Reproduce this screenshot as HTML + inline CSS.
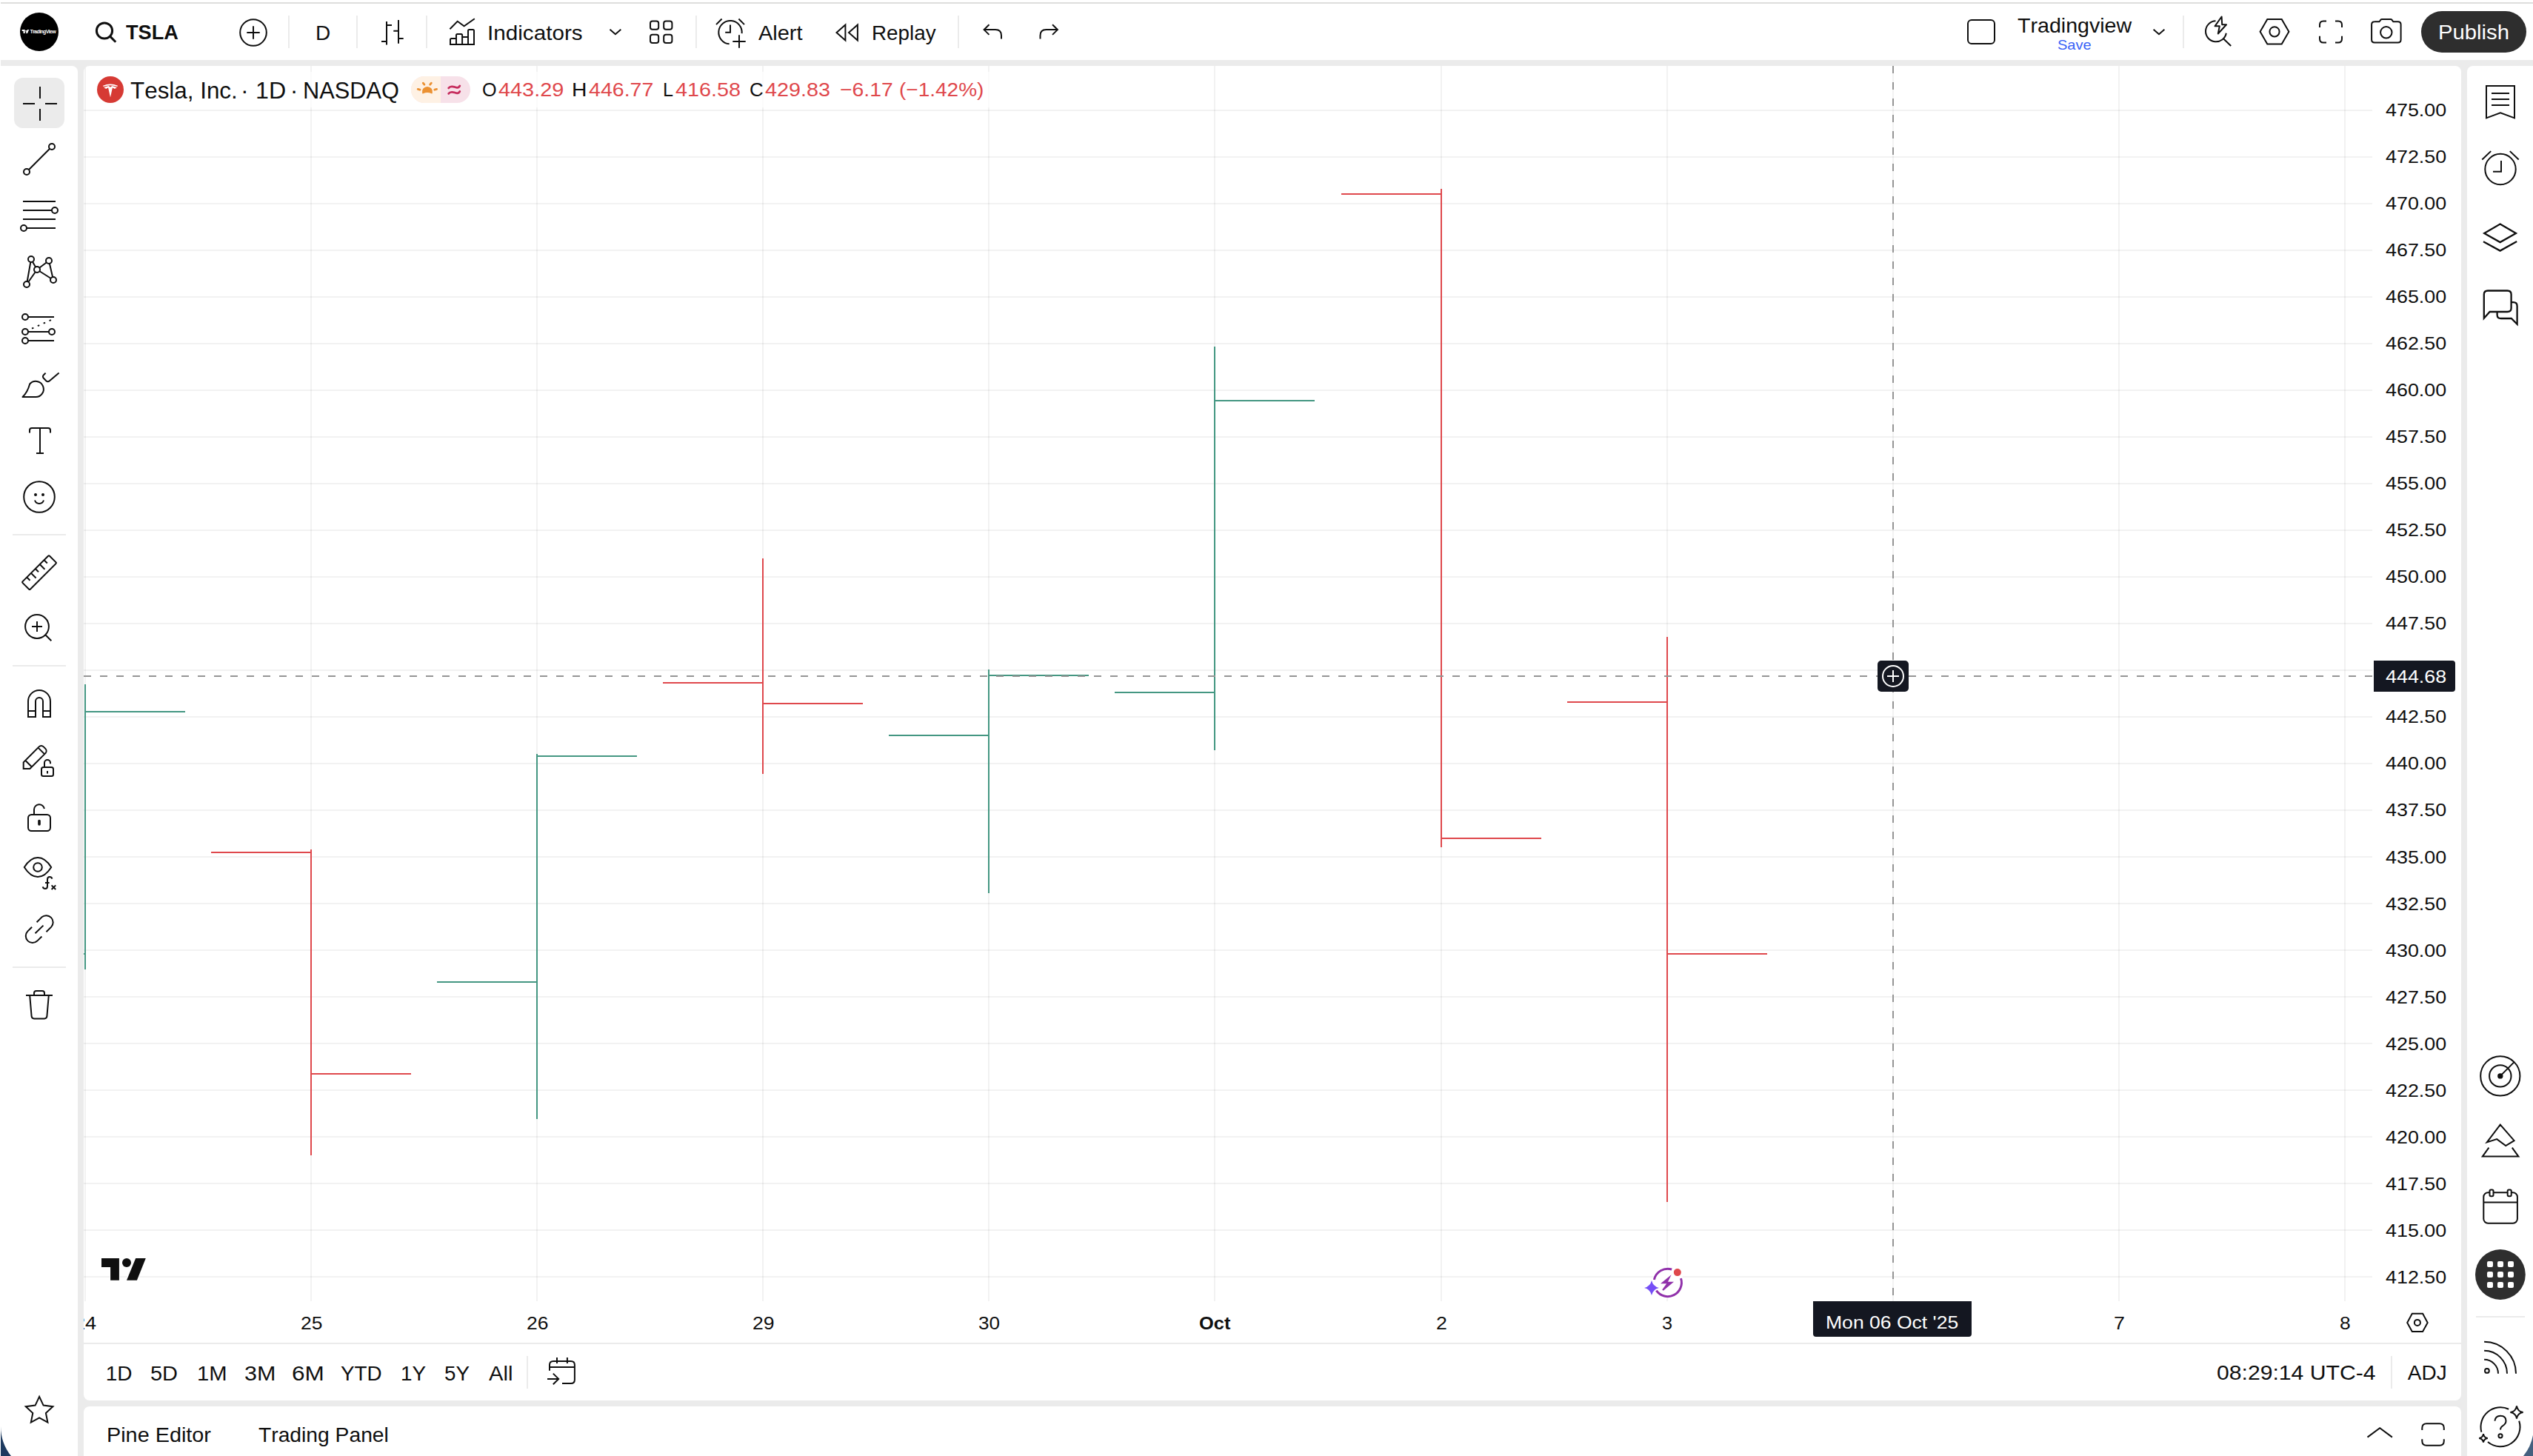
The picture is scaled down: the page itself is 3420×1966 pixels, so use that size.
<!DOCTYPE html>
<html lang="en"><head><meta charset="utf-8"><title>TSLA 429.83 ▼ −1.42% Tradingview</title>
<style>
html,body{margin:0;padding:0}
body{width:3420px;height:1966px;position:relative;overflow:hidden;background:#fff;font-family:"Liberation Sans",sans-serif;font-kerning:none;color:#0f0f0f}
.abs{position:absolute}
.t{position:absolute;white-space:pre;line-height:1;font-kerning:none;transform-origin:0 0}
.panel{position:absolute;background:#fff;overflow:hidden}
.sep{position:absolute;width:2px;background:#ebebeb}
.hsep{position:absolute;height:2px;background:#ebebeb}
svg{display:block;overflow:visible}
.ic{fill:none;stroke:#0f0f0f;stroke-width:2;stroke-linecap:butt;stroke-linejoin:miter}
</style></head><body>
<div class="abs" id="bg" style="left:1px;top:81px;width:3419px;height:1885px;background:#ebebeb"></div>
<div class="abs" style="left:1px;top:3px;width:3419px;height:2px;background:#dededc"></div>
<div class="panel" id="header" style="left:1px;top:5px;width:3419px;height:76px"></div>
<div class="sep" style="left:389px;top:21px;height:44px"></div>
<div class="sep" style="left:481px;top:21px;height:44px"></div>
<div class="sep" style="left:575px;top:21px;height:44px"></div>
<div class="sep" style="left:939px;top:21px;height:44px"></div>
<div class="sep" style="left:1293px;top:21px;height:44px"></div>
<div class="sep" style="left:2947px;top:21px;height:44px"></div>
<span class="t " style="left:169.99px;top:30px;font-size:28px;color:#0f0f0f;transform:scaleX(0.9701);font-weight:700;">TSLA</span>
<span class="t " style="left:425.90px;top:31px;font-size:28px;color:#0f0f0f;">D</span>
<span class="t " style="left:658.06px;top:31px;font-size:28px;color:#0f0f0f;transform:scaleX(1.0595);">Indicators</span>
<span class="t " style="left:1024.14px;top:31px;font-size:28px;color:#0f0f0f;transform:scaleX(1.0347);">Alert</span>
<span class="t " style="left:1177.42px;top:31px;font-size:28px;color:#0f0f0f;transform:scaleX(0.9928);">Replay</span>
<span class="t " style="left:2723.56px;top:21px;font-size:28px;color:#0f0f0f;transform:scaleX(1.0213);">Tradingview</span>
<span class="t " style="left:2777.79px;top:51px;font-size:19px;color:#3861f6;transform:scaleX(1.0553);">Save</span>
<div class="abs" style="left:3269px;top:15px;width:142px;height:56px;border-radius:28px;background:#2e2e2e"></div>
<span class="t " style="left:3291.60px;top:30px;font-size:28px;color:#fff;transform:scaleX(1.0454);">Publish</span>
<div class="panel" id="left" style="left:1px;top:89px;width:104px;height:1877px;border-top-right-radius:8px"></div>
<div class="abs" style="left:19px;top:105px;width:68px;height:68px;border-radius:12px;background:#ebebeb"></div>
<div class="hsep" style="left:17px;top:721px;width:72px"></div>
<div class="hsep" style="left:17px;top:898px;width:72px"></div>
<div class="hsep" style="left:17px;top:1305px;width:72px"></div>
<div class="panel" id="right" style="left:3331px;top:89px;width:89px;height:1877px;border-top-left-radius:8px"></div>
<div class="hsep" style="left:3343px;top:1777px;width:66px"></div>
<div class="panel" id="chart" style="left:113px;top:89px;width:3210px;height:1802px;border-radius:8px"></div>
<div class="abs" id="chartclip" style="left:113px;top:89px;width:3210px;height:1802px;overflow:hidden;border-radius:8px"><div class="abs" style="left:-113px;top:-89px;width:3420px;height:1966px">
<svg class="abs" style="left:113px;top:89px" width="3210" height="1725" viewBox="113 89 3210 1725">
<rect x="113" y="148" width="3090" height="2" fill="rgba(0,0,0,0.051)"/>
<rect x="113" y="211" width="3090" height="2" fill="rgba(0,0,0,0.051)"/>
<rect x="113" y="274" width="3090" height="2" fill="rgba(0,0,0,0.051)"/>
<rect x="113" y="337" width="3090" height="2" fill="rgba(0,0,0,0.051)"/>
<rect x="113" y="400" width="3090" height="2" fill="rgba(0,0,0,0.051)"/>
<rect x="113" y="463" width="3090" height="2" fill="rgba(0,0,0,0.051)"/>
<rect x="113" y="526" width="3090" height="2" fill="rgba(0,0,0,0.051)"/>
<rect x="113" y="589" width="3090" height="2" fill="rgba(0,0,0,0.051)"/>
<rect x="113" y="652" width="3090" height="2" fill="rgba(0,0,0,0.051)"/>
<rect x="113" y="715" width="3090" height="2" fill="rgba(0,0,0,0.051)"/>
<rect x="113" y="778" width="3090" height="2" fill="rgba(0,0,0,0.051)"/>
<rect x="113" y="841" width="3090" height="2" fill="rgba(0,0,0,0.051)"/>
<rect x="113" y="904" width="3090" height="2" fill="rgba(0,0,0,0.051)"/>
<rect x="113" y="967" width="3090" height="2" fill="rgba(0,0,0,0.051)"/>
<rect x="113" y="1030" width="3090" height="2" fill="rgba(0,0,0,0.051)"/>
<rect x="113" y="1093" width="3090" height="2" fill="rgba(0,0,0,0.051)"/>
<rect x="113" y="1156" width="3090" height="2" fill="rgba(0,0,0,0.051)"/>
<rect x="113" y="1219" width="3090" height="2" fill="rgba(0,0,0,0.051)"/>
<rect x="113" y="1282" width="3090" height="2" fill="rgba(0,0,0,0.051)"/>
<rect x="113" y="1345" width="3090" height="2" fill="rgba(0,0,0,0.051)"/>
<rect x="113" y="1408" width="3090" height="2" fill="rgba(0,0,0,0.051)"/>
<rect x="113" y="1471" width="3090" height="2" fill="rgba(0,0,0,0.051)"/>
<rect x="113" y="1534" width="3090" height="2" fill="rgba(0,0,0,0.051)"/>
<rect x="113" y="1597" width="3090" height="2" fill="rgba(0,0,0,0.051)"/>
<rect x="113" y="1660" width="3090" height="2" fill="rgba(0,0,0,0.051)"/>
<rect x="113" y="1723" width="3090" height="2" fill="rgba(0,0,0,0.051)"/>
<rect x="114" y="89" width="2" height="1668" fill="rgba(0,0,0,0.051)"/>
<rect x="419" y="89" width="2" height="1668" fill="rgba(0,0,0,0.051)"/>
<rect x="724" y="89" width="2" height="1668" fill="rgba(0,0,0,0.051)"/>
<rect x="1029" y="89" width="2" height="1668" fill="rgba(0,0,0,0.051)"/>
<rect x="1334" y="89" width="2" height="1668" fill="rgba(0,0,0,0.051)"/>
<rect x="1639" y="89" width="2" height="1668" fill="rgba(0,0,0,0.051)"/>
<rect x="1945" y="89" width="2" height="1668" fill="rgba(0,0,0,0.051)"/>
<rect x="2250" y="89" width="2" height="1668" fill="rgba(0,0,0,0.051)"/>
<rect x="2555" y="89" width="2" height="1668" fill="rgba(0,0,0,0.051)"/>
<rect x="2860" y="89" width="2" height="1668" fill="rgba(0,0,0,0.051)"/>
<rect x="3165" y="89" width="2" height="1668" fill="rgba(0,0,0,0.051)"/>
<rect x="114" y="924" width="2" height="385" fill="#449782"/>
<rect x="-20" y="1287" width="135" height="2" fill="#449782"/>
<rect x="115" y="960" width="135" height="2" fill="#449782"/>
<rect x="419" y="1147" width="2" height="413" fill="#df484c"/>
<rect x="285" y="1150" width="135" height="2" fill="#df484c"/>
<rect x="420" y="1449" width="135" height="2" fill="#df484c"/>
<rect x="724" y="1018" width="2" height="493" fill="#449782"/>
<rect x="590" y="1325" width="135" height="2" fill="#449782"/>
<rect x="725" y="1020" width="135" height="2" fill="#449782"/>
<rect x="1029" y="754" width="2" height="291" fill="#df484c"/>
<rect x="895" y="921" width="135" height="2" fill="#df484c"/>
<rect x="1030" y="949" width="135" height="2" fill="#df484c"/>
<rect x="1334" y="904" width="2" height="302" fill="#449782"/>
<rect x="1200" y="992" width="135" height="2" fill="#449782"/>
<rect x="1335" y="911" width="135" height="2" fill="#449782"/>
<rect x="1639" y="468" width="2" height="545" fill="#449782"/>
<rect x="1505" y="934" width="135" height="2" fill="#449782"/>
<rect x="1640" y="540" width="135" height="2" fill="#449782"/>
<rect x="1945" y="255" width="2" height="889" fill="#df484c"/>
<rect x="1811" y="261" width="135" height="2" fill="#df484c"/>
<rect x="1946" y="1131" width="135" height="2" fill="#df484c"/>
<rect x="2250" y="860" width="2" height="763" fill="#df484c"/>
<rect x="2116" y="947" width="135" height="2" fill="#df484c"/>
<rect x="2251" y="1287" width="135" height="2" fill="#df484c"/>
<line x1="113" y1="913.0" x2="3203" y2="913.0" stroke="#959595" stroke-width="2" stroke-dasharray="10 12"/>
<line x1="2556.0" y1="89" x2="2556.0" y2="1757" stroke="#959595" stroke-width="2" stroke-dasharray="10 12"/>
</svg>
<div class="abs" id="legend-bg" style="left:123px;top:97px;width:1217px;height:48px;background:rgba(255,255,255,.65)"></div>
<div class="abs" style="left:131px;top:103px;width:36px;height:36px;border-radius:18px;background:#d63a34"></div>
<span class="t " style="left:175.80px;top:106px;font-size:32px;color:#0f0f0f;transform:scaleX(0.9808);">Tesla, Inc.</span>
<span class="t " style="left:325.10px;top:106px;font-size:32px;color:#0f0f0f;">·</span>
<span class="t " style="left:344.65px;top:106px;font-size:32px;color:#0f0f0f;transform:scaleX(1.0044);">1D</span>
<span class="t " style="left:391.80px;top:106px;font-size:32px;color:#0f0f0f;">·</span>
<span class="t " style="left:408.98px;top:106px;font-size:32px;color:#0f0f0f;transform:scaleX(0.9604);">NASDAQ</span>
<div class="abs" style="left:555px;top:103px;width:80px;height:36px;border-radius:18px;overflow:hidden;background:#f7e1e9"><div class="abs" style="left:0;top:0;width:40px;height:36px;background:#fef1e4"></div></div>
<span class="t " style="left:650.71px;top:108px;font-size:26px;color:#0f0f0f;transform:scaleX(0.9691);">O</span>
<span class="t " style="left:673.14px;top:108px;font-size:26px;color:#df484c;transform:scaleX(1.1107);">443.29</span>
<span class="t " style="left:772.48px;top:108px;font-size:26px;color:#0f0f0f;transform:scaleX(1.0879);">H</span>
<span class="t " style="left:795.44px;top:108px;font-size:26px;color:#df484c;transform:scaleX(1.0990);">446.77</span>
<span class="t " style="left:895.13px;top:108px;font-size:26px;color:#0f0f0f;transform:scaleX(0.9683);">L</span>
<span class="t " style="left:912.34px;top:108px;font-size:26px;color:#df484c;transform:scaleX(1.1054);">416.58</span>
<span class="t " style="left:1012.18px;top:108px;font-size:26px;color:#0f0f0f;transform:scaleX(0.9960);">C</span>
<span class="t " style="left:1033.44px;top:108px;font-size:26px;color:#df484c;transform:scaleX(1.1056);">429.83</span>
<span class="t " style="left:1133.60px;top:108px;font-size:26px;color:#df484c;transform:scaleX(1.0918);">−6.17</span>
<span class="t " style="left:1214.26px;top:108px;font-size:26px;color:#df484c;transform:scaleX(1.0767);">(−1.42%)</span>
<span class="t " style="left:3221.38px;top:137px;font-size:24.5px;color:#0f0f0f;transform:scaleX(1.0965);">475.00</span>
<span class="t " style="left:3221.38px;top:200px;font-size:24.5px;color:#0f0f0f;transform:scaleX(1.0965);">472.50</span>
<span class="t " style="left:3221.38px;top:263px;font-size:24.5px;color:#0f0f0f;transform:scaleX(1.0965);">470.00</span>
<span class="t " style="left:3221.38px;top:326px;font-size:24.5px;color:#0f0f0f;transform:scaleX(1.0965);">467.50</span>
<span class="t " style="left:3221.38px;top:389px;font-size:24.5px;color:#0f0f0f;transform:scaleX(1.0965);">465.00</span>
<span class="t " style="left:3221.38px;top:452px;font-size:24.5px;color:#0f0f0f;transform:scaleX(1.0965);">462.50</span>
<span class="t " style="left:3221.38px;top:515px;font-size:24.5px;color:#0f0f0f;transform:scaleX(1.0965);">460.00</span>
<span class="t " style="left:3221.38px;top:578px;font-size:24.5px;color:#0f0f0f;transform:scaleX(1.0965);">457.50</span>
<span class="t " style="left:3221.38px;top:641px;font-size:24.5px;color:#0f0f0f;transform:scaleX(1.0965);">455.00</span>
<span class="t " style="left:3221.38px;top:704px;font-size:24.5px;color:#0f0f0f;transform:scaleX(1.0965);">452.50</span>
<span class="t " style="left:3221.38px;top:767px;font-size:24.5px;color:#0f0f0f;transform:scaleX(1.0965);">450.00</span>
<span class="t " style="left:3221.38px;top:830px;font-size:24.5px;color:#0f0f0f;transform:scaleX(1.0965);">447.50</span>
<span class="t " style="left:3221.38px;top:893px;font-size:24.5px;color:#0f0f0f;transform:scaleX(1.0965);">445.00</span>
<span class="t " style="left:3221.38px;top:956px;font-size:24.5px;color:#0f0f0f;transform:scaleX(1.0965);">442.50</span>
<span class="t " style="left:3221.38px;top:1019px;font-size:24.5px;color:#0f0f0f;transform:scaleX(1.0965);">440.00</span>
<span class="t " style="left:3221.38px;top:1082px;font-size:24.5px;color:#0f0f0f;transform:scaleX(1.0965);">437.50</span>
<span class="t " style="left:3221.38px;top:1146px;font-size:24.5px;color:#0f0f0f;transform:scaleX(1.0965);">435.00</span>
<span class="t " style="left:3221.38px;top:1209px;font-size:24.5px;color:#0f0f0f;transform:scaleX(1.0965);">432.50</span>
<span class="t " style="left:3221.38px;top:1272px;font-size:24.5px;color:#0f0f0f;transform:scaleX(1.0965);">430.00</span>
<span class="t " style="left:3221.38px;top:1335px;font-size:24.5px;color:#0f0f0f;transform:scaleX(1.0965);">427.50</span>
<span class="t " style="left:3221.38px;top:1398px;font-size:24.5px;color:#0f0f0f;transform:scaleX(1.0965);">425.00</span>
<span class="t " style="left:3221.38px;top:1461px;font-size:24.5px;color:#0f0f0f;transform:scaleX(1.0965);">422.50</span>
<span class="t " style="left:3221.38px;top:1524px;font-size:24.5px;color:#0f0f0f;transform:scaleX(1.0965);">420.00</span>
<span class="t " style="left:3221.38px;top:1587px;font-size:24.5px;color:#0f0f0f;transform:scaleX(1.0965);">417.50</span>
<span class="t " style="left:3221.38px;top:1650px;font-size:24.5px;color:#0f0f0f;transform:scaleX(1.0965);">415.00</span>
<span class="t " style="left:3221.38px;top:1713px;font-size:24.5px;color:#0f0f0f;transform:scaleX(1.0965);">412.50</span>
<div class="abs" style="left:3205px;top:892px;width:110px;height:42px;background:#141721;border-radius:0 4px 4px 0"></div>
<span class="t " style="left:3221.38px;top:902px;font-size:24.5px;color:#fff;transform:scaleX(1.0967);">444.68</span>
<div class="abs" style="left:2535px;top:892px;width:42px;height:42px;background:#141721;border-radius:5px"></div>
<svg class="abs" style="left:2535px;top:892px" width="42" height="42" viewBox="-21 -21 42 42"><circle r="14" fill="none" stroke="#fff" stroke-width="2"/><path d="M-8 0H8M0 -8V8" stroke="#fff" stroke-width="2" fill="none"/></svg>
<span class="t " style="left:100.09px;top:1775px;font-size:24.5px;color:#0f0f0f;transform:scaleX(1.1067);">24</span>
<span class="t " style="left:405.72px;top:1775px;font-size:24.5px;color:#0f0f0f;transform:scaleX(1.0804);">25</span>
<span class="t " style="left:710.82px;top:1775px;font-size:24.5px;color:#0f0f0f;transform:scaleX(1.0825);">26</span>
<span class="t " style="left:1015.91px;top:1775px;font-size:24.5px;color:#0f0f0f;transform:scaleX(1.0861);">29</span>
<span class="t " style="left:1321.36px;top:1775px;font-size:24.5px;color:#0f0f0f;transform:scaleX(1.0646);">30</span>
<span class="t " style="left:1619.41px;top:1775px;font-size:24.5px;color:#0f0f0f;transform:scaleX(1.0370);font-weight:700;">Oct</span>
<span class="t " style="left:1938.60px;top:1775px;font-size:24.5px;color:#0f0f0f;transform:scaleX(1.0931);">2</span>
<span class="t " style="left:2244.19px;top:1775px;font-size:24.5px;color:#0f0f0f;transform:scaleX(1.0331);">3</span>
<span class="t " style="left:2853.87px;top:1775px;font-size:24.5px;color:#0f0f0f;transform:scaleX(1.0954);">7</span>
<span class="t " style="left:3159.10px;top:1775px;font-size:24.5px;color:#0f0f0f;transform:scaleX(1.0786);">8</span>
<div class="abs" style="left:2448px;top:1757px;width:214px;height:48px;background:#141721;border-radius:0 0 4px 4px"></div>
<span class="t " style="left:2464.52px;top:1774px;font-size:24.5px;color:#fff;transform:scaleX(1.0836);">Mon 06 Oct '25</span>
<div class="abs" style="left:113px;top:1813px;width:3210px;height:2px;background:#ebebeb"></div>
<span class="t " style="left:142.67px;top:1841px;font-size:28px;color:#0f0f0f;">1D</span>
<span class="t " style="left:203.04px;top:1841px;font-size:28px;color:#0f0f0f;transform:scaleX(1.0350);">5D</span>
<span class="t " style="left:265.58px;top:1841px;font-size:28px;color:#0f0f0f;transform:scaleX(1.0416);">1M</span>
<span class="t " style="left:330.14px;top:1841px;font-size:28px;color:#0f0f0f;transform:scaleX(1.0891);">3M</span>
<span class="t " style="left:393.80px;top:1841px;font-size:28px;color:#0f0f0f;transform:scaleX(1.1257);">6M</span>
<span class="t " style="left:459.99px;top:1841px;font-size:28px;color:#0f0f0f;transform:scaleX(0.9936);">YTD</span>
<span class="t " style="left:540.58px;top:1841px;font-size:28px;color:#0f0f0f;transform:scaleX(0.9937);">1Y</span>
<span class="t " style="left:599.69px;top:1841px;font-size:28px;color:#0f0f0f;transform:scaleX(0.9935);">5Y</span>
<span class="t " style="left:659.54px;top:1841px;font-size:28px;color:#0f0f0f;transform:scaleX(1.0415);">All</span>
<div class="sep" style="left:711px;top:1831px;height:44px"></div>
<span class="t " style="left:2993.32px;top:1840px;font-size:28px;color:#0f0f0f;transform:scaleX(1.0765);">08:29:14 UTC-4</span>
<div class="sep" style="left:3228px;top:1831px;height:44px"></div>
<span class="t " style="left:3250.75px;top:1840px;font-size:28px;color:#0f0f0f;">ADJ</span>
<svg class="abs" id="chart-icons" style="left:113px;top:89px" width="3210" height="1801" viewBox="113 89 3210 1801">
<g fill="#fff" stroke="none"><path d="M139 115.8Q149 111.2 159 115.8L158.3 117.1Q149 113.3 139.7 117.1Z"/><path d="M140.2 118.5Q142.8 116.6 146.7 116L149 117.8L151.3 116Q155.2 116.6 157.8 118.5Q156 119.1 154.6 120Q153.4 118.8 151.9 118.6L149 131.6L146.1 118.6Q144.6 118.8 143.4 120Q142 119.1 140.2 118.5Z"/></g>
<path d="M570.1 125.6A7.05 7.05 0 1 1 583.8 125.6Q583.6 126.9 582.5 126.3Q577 123.5 571.4 126.3Q570.3 126.9 570.1 125.6Z" fill="#eb9132"/>
<path d="M564.2 120.4L567 121.2M571.3 112.2L572.9 114.2M582.3 112.2L580.7 114.2M589.6 120.4L586.8 121.2" stroke="#eb9132" stroke-width="2.8" stroke-linecap="round" fill="none"/>
<path d="M605.7 118.9Q607.4 116.7 610.4 116.9Q613.6 117.2 616.4 118.2Q619.2 118.9 620.8 115.9" stroke="#c62d5e" stroke-width="2.8" stroke-linecap="round" fill="none"/>
<path d="M605.7 118.9Q607.4 116.7 610.4 116.9Q613.6 117.2 616.4 118.2Q619.2 118.9 620.8 115.9" transform="translate(0 7.5)" stroke="#c62d5e" stroke-width="2.8" stroke-linecap="round" fill="none"/>
<g fill="#0f0f0f" stroke="#fff" stroke-width="2.5" paint-order="stroke" stroke-linejoin="round"><path d="M137 1699H160.9V1728.8H149.1V1711H137Z"/><circle cx="171" cy="1705" r="6"/><path d="M183.2 1699H196.8L184.9 1728.8H171Z"/></g>
<circle cx="2251.7" cy="1731.9" r="21.5" fill="#fff"/>
<path d="M2269.48 1726.12A18.7 18.7 0 0 1 2236.38 1742.63M2233.41 1728.01A18.7 18.7 0 0 1 2257.17 1714.02" stroke="#9031aa" stroke-width="3" fill="none"/>
<path d="M2256.6 1721.2L2242 1733.2H2250.2L2244.2 1741.4L2245.8 1742.8L2260 1730.8H2252Z" fill="#9031aa"/>
<circle cx="2264.8" cy="1718.1" r="5" fill="#df484c"/>
<path d="M2230.00 1729.10Q2231.88 1737.12 2239.90 1739.00Q2231.88 1740.88 2230.00 1748.90Q2228.12 1740.88 2220.10 1739.00Q2228.12 1737.12 2230.00 1729.10Z" fill="#754ff6"/>
<g class="ic"><path d="M3250.2 1785.9L3256.8 1773.8H3271.1L3277.7 1785.9L3271.1 1798H3256.8Z"/><circle cx="3263.9" cy="1785.9" r="4"/>
<path d="M742 1850.8V1842.9Q742 1837.9 747 1837.9H770.9Q775.9 1837.9 775.9 1842.9V1862.9Q775.9 1867.9 770.9 1867.9H759M742 1845.9H775.9M752 1832.9V1841M765.9 1832.9V1841M739 1861.9H754.2M746.8 1854.6L754.2 1861.9L746.8 1869.2"/></g>
</svg>
</div></div>
<div class="panel" id="bottom" style="left:113px;top:1899px;width:3210px;height:67px;border-radius:8px 8px 0 0"></div>
<span class="t " style="left:143.84px;top:1924px;font-size:28px;color:#0f0f0f;transform:scaleX(1.0290);">Pine Editor</span>
<span class="t " style="left:349.47px;top:1924px;font-size:28px;color:#0f0f0f;transform:scaleX(1.0086);">Trading Panel</span>
<svg class="abs" id="top-icons" style="left:0;top:0" width="3420" height="81" viewBox="0 0 3420 81">
<g class="ic">
<circle cx="53" cy="43" r="26" fill="#000" stroke="none"/>
<path d="M29.7 40h4v5h-2.1v-2.9h-1.9zM35.2 40.9a.9.9 0 1 0 .01 0zM36.9 40h2.2l-2 5h-2.2z" fill="#fff" stroke="none"/>
<circle cx="141" cy="41.5" r="10.6" stroke-width="3"/><path d="M148.6 49.1L156.2 56.7" stroke-width="3"/>
<circle cx="342" cy="44" r="17.8"/><path d="M333.3 44H350.7M342 35.3V52.7"/>
<path d="M522 29V60.6M522 34H529M515 56H522M538 27V58.7M531.3 41.8H538M538 52H544.7"/>
<path d="M607.4 39.2L617.7 28.8L626.6 35.3L640.8 25.2"/>
<path d="M608 60V53.6Q608 52.1 609.5 52.1H616M616 60V47.4Q616 45.9 617.5 45.9H622.6Q624.1 45.9 624.1 47.4V60M624.1 50H632M632 60V41.5Q632 40 633.5 40H638.5Q640 40 640 41.5V60M607 60H641"/>
<path d="M823.5 39.8L830.9 46.2L838.3 39.8"/>
<path d="M2907.6 39.8L2915 46.2L2922.4 39.8"/>
<rect x="878" y="28.6" width="11.2" height="11.2" rx="3"/>
<rect x="896.2" y="28.6" width="11.2" height="11.2" rx="3"/>
<rect x="878" y="46.8" width="11.2" height="11.2" rx="3"/>
<rect x="896.2" y="46.8" width="11.2" height="11.2" rx="3"/>
<path d="M984.63 59.34A15.7 15.7 0 1 1 1001.64 45.07"/>
<path d="M967 33.1L974.6 25.5M997.4 25.5L1005 33.1M986 33.4V43.7H979.2M989.3 56H1006.7M998 47.3V64.7"/>
<path d="M1129.5 44L1141.4 33.4V54.6ZM1146 44L1157.9 33.4V54.6Z" stroke-linejoin="miter"/>
<path d="M1335.5 33.3L1328.6 40.1L1335.5 46.9M1329 40.1H1344Q1352 40.1 1352 48.1V52.4"/>
<path d="M1421 33.3L1427.9 40.1L1421 46.9M1427.5 40.1H1412.5Q1404.5 40.1 1404.5 48.1V52.4"/>
<rect x="2657" y="27" width="36" height="32" rx="5"/>
<path d="M3005.79 44.73A14 14 0 1 1 2991.51 28.31"/>
<path d="M3002 52.3L3012.2 62"/>
<path d="M2999.6 22.5L2990.5 35.3H2996.8L2994.8 45.5L3006 33.3H3000.2Z" stroke-linejoin="round"/>
<path d="M3051.6 42.7L3061.3 25.9H3080.7L3090.4 42.7L3080.7 59.5H3061.3Z"/><circle cx="3071" cy="42.8" r="6.6"/>
<path d="M3132 37V33.4Q3132 28.4 3137 28.4H3141M3153 28.4H3157Q3162 28.4 3162 33.4V37M3162 48.8V52.4Q3162 57.4 3157 57.4H3153M3141 57.4H3137Q3132 57.4 3132 52.4V48.8"/>
<path d="M3206 29.3H3212.5L3214.5 26.6Q3215 25.9 3216 25.9H3227.8Q3228.8 25.9 3229.3 26.6L3231.3 29.3H3237.6Q3241.6 29.3 3241.6 33.3V53.4Q3241.6 57.4 3237.6 57.4H3206.1Q3202.1 57.4 3202.1 53.4V33.3Q3202.1 29.3 3206.1 29.3Z"/><circle cx="3221.8" cy="43.8" r="7.7"/>
</g></svg>
<svg class="abs" id="left-icons" style="left:0;top:89px" width="105" height="1877" viewBox="0 89 105 1877">
<g class="ic">
<path d="M54 117V133M54 147V163M31 140H47M61 140H77"/>
<path d="M38.8 229.2L67.2 200.8"/><circle cx="70" cy="198" r="4"/><circle cx="36" cy="232" r="4"/>
<path d="M31 272H75M31 284H70M31 296H75M36 308H75"/><circle cx="74" cy="284" r="4"/><circle cx="32" cy="308" r="4"/>
<path d="M42 350L36 384M42 350L50 364M50 364L36 384M50 364L66 352M50 364L72 378M66 352L72 378"/>
<circle cx="42" cy="350" r="4" fill="#fff"/>
<circle cx="66" cy="352" r="4" fill="#fff"/>
<circle cx="50" cy="364" r="4" fill="#fff"/>
<circle cx="72" cy="378" r="4" fill="#fff"/>
<circle cx="36" cy="384" r="4" fill="#fff"/>
<path d="M38 428H73M38 448H66M38 460H73"/><path d="M43 443.7L69.3 431.9" stroke-dasharray="2.6 6" stroke-width="2"/>
<circle cx="34" cy="428" r="4"/><circle cx="34" cy="448" r="4"/><circle cx="70" cy="448" r="4"/><circle cx="34" cy="460" r="4"/>
<path d="M30.5 536H47.5A10.6 10.6 0 1 0 40.2 518.5Q37 530 30.5 536Z" stroke-linejoin="round"/>
<path d="M61.6 503.6L59 506.2Q56.9 508.5 59 510.8L62.3 514.2Q64.6 516.3 66.9 514.2L79.6 503.6"/>
<path d="M40 584.6V581Q40 578 43 578H65Q68 578 68 581V584.6M54 578V612M49 612H59"/>
<circle cx="53" cy="671" r="20.8"/><circle cx="48" cy="668" r="2" fill="#0f0f0f" stroke="none"/><circle cx="58" cy="668" r="2" fill="#0f0f0f" stroke="none"/><path d="M47 675.5Q48.5 680 53 680Q57.5 680 59 675.5"/>
<path d="M65 750.7Q66 749.7 67 750.7L75.4 759.1Q76.4 760.1 75.4 761.1L41 795.5Q40 796.5 39 795.5L30.6 787.1Q29.6 786.1 30.6 785.1Z"/>
<path d="M36.5 779.8L40.5 783.8M42.2 774.1L48.6 780.5M48 768.3L52 772.3M54 762.3L60.4 768.7M59.8 756.5L63.8 760.5"/>
<circle cx="50" cy="846" r="15.9"/><path d="M43 846H57M50 839V853M61.3 857.3L69.3 865.3"/>
<path d="M38 968V947A15 15 0 0 1 68 947V968H58V947A5 5 0 0 0 48 947V968ZM38 960H48M58 960H68"/>
<path d="M31.7 1029.3V1038H40.4L61.3 1017.1A4.4 4.4 0 0 0 61.3 1010.9L58.8 1008.4A4.4 4.4 0 0 0 52.6 1008.4ZM34.4 1027L42.7 1035.3M51.5 1009.6L60 1018.1" stroke-linejoin="miter"/>
<rect x="56" y="1036" width="16" height="12" rx="2.5" fill="#fff"/><path d="M60 1036V1030A4 4 0 0 1 68 1030V1031.2M64 1041V1044.6"/>
<rect x="38" y="1100" width="30" height="22" rx="4.5"/><path d="M46 1100V1093A7 7 0 0 1 59.9 1092"/><path d="M53 1108.6V1113" stroke-width="3.6" stroke-linecap="round"/>
<path d="M32.8 1171Q41 1158 51 1158Q61 1158 69.2 1171Q61 1184 51 1184Q41 1184 32.8 1171Z" stroke-linejoin="miter"/><circle cx="51" cy="1171" r="5.8"/>
<path d="M70.4 1186.6Q69.6 1184 67 1184Q64 1184 64 1187.5V1196.5Q64 1200 61 1200Q58.6 1200 57.6 1197.4M61 1192H66.6M69.6 1195.4L75.2 1201M75.2 1195.4L69.6 1201"/>
<path d="M49.6 1245.3L56.2 1238.6A9.2 9.2 0 0 1 69.2 1251.6L62.5 1258.3M43.1 1251.7L37.2 1257.6A9.2 9.2 0 0 0 50.2 1270.6L56.4 1264.5M47.5 1260.2L58.5 1249.6"/>
<path d="M35 1344H71M46 1344V1341Q46 1338 49 1338H57Q60 1338 60 1341V1344M40.2 1344L42.6 1372.2Q42.9 1375.4 46 1375.4H60Q63.1 1375.4 63.4 1372.2L65.8 1344"/>
<path d="M53.1 1885.9L58.6 1897.6L71.4 1899.2L61.9 1908.0L64.4 1920.6L53.1 1914.4L41.8 1920.6L44.3 1908.0L34.8 1899.2L47.6 1897.6Z"/>
</g></svg>
<svg class="abs" id="right-icons" style="left:3331px;top:89px" width="89" height="1877" viewBox="3331 89 89 1877">
<g class="ic">
<path d="M3357 116H3395V159.4L3376 152.2L3357 159.4ZM3364 126H3388M3364 134H3388M3364 142H3388"/>
<circle cx="3376" cy="228.5" r="20.7"/><path d="M3377 217V231.8H3366M3351.3 215.5L3363.2 204.1M3388.8 204.1L3400.7 215.5"/>
<path d="M3375.6 302.6L3397 315L3375.6 327.1L3354.2 315ZM3353 326.2L3375.6 338.6L3398.2 326" stroke-width="2.3"/>
<path d="M3353.8 429.8V397.6Q3353.8 392.5 3359 392.5H3385.4Q3390.6 392.5 3390.6 397.6V416Q3390.6 421 3385.4 421H3361.6Z" stroke-width="2.3"/>
<path d="M3390.6 408.2H3393.4Q3398.6 408.2 3398.6 413.4V437.8L3390.8 430H3376.8Q3371.6 430 3371.6 424.9V421" stroke-width="2.3"/>
<circle cx="3375.8" cy="1452.9" r="26.6"/><circle cx="3375.8" cy="1452.9" r="14.7"/><circle cx="3375.8" cy="1452.9" r="3.7" fill="#0f0f0f" stroke="none"/><path d="M3375.8 1452.9L3394.8 1433.9"/>
<path d="M3375.8 1518.6L3394.6 1540.2L3383.2 1547L3371.2 1538.1L3357.8 1542.4ZM3360.4 1549.6L3351.8 1561.6H3400.4L3391.8 1549.6"/>
<rect x="3353.3" y="1610.3" width="45.6" height="41.4" rx="6"/><path d="M3353.3 1623.5H3398.9"/>
<rect x="3361.5" y="1606.4" width="5" height="8.8" rx="1.6" fill="#fff"/><rect x="3385.7" y="1606.4" width="5" height="8.8" rx="1.6" fill="#fff"/>
<circle cx="3375.9" cy="1721" r="33.9" fill="#2e2e2e" stroke="none"/>
<rect x="3358" y="1703" width="8" height="8" rx="2" fill="#fff" stroke="none"/>
<rect x="3358" y="1717" width="8" height="8" rx="2" fill="#fff" stroke="none"/>
<rect x="3358" y="1731" width="8" height="8" rx="2" fill="#fff" stroke="none"/>
<rect x="3372" y="1703" width="8" height="8" rx="2" fill="#fff" stroke="none"/>
<rect x="3372" y="1717" width="8" height="8" rx="2" fill="#fff" stroke="none"/>
<rect x="3372" y="1731" width="8" height="8" rx="2" fill="#fff" stroke="none"/>
<rect x="3386" y="1703" width="8" height="8" rx="2" fill="#fff" stroke="none"/>
<rect x="3386" y="1717" width="8" height="8" rx="2" fill="#fff" stroke="none"/>
<rect x="3386" y="1731" width="8" height="8" rx="2" fill="#fff" stroke="none"/>
<path d="M3354.1 1811.8A42.9 42.9 0 0 1 3397.0 1854.7"/>
<path d="M3354.1 1823.8A30.9 30.9 0 0 1 3385.0 1854.7"/>
<path d="M3354.1 1835.8A18.9 18.9 0 0 1 3373.0 1854.7"/>
<circle cx="3357.9" cy="1850.9" r="2.9"/>
<path d="M3401.20 1918.61A26.5 26.5 0 0 1 3358.97 1947.10M3350.40 1933.66A26.5 26.5 0 0 1 3387.20 1902.78"/>
<path d="M3398.00 1898.30Q3399.07 1905.83 3406.60 1906.90Q3399.07 1907.98 3398.00 1915.50Q3396.93 1907.98 3389.40 1906.90Q3396.93 1905.83 3398.00 1898.30Z" stroke-linejoin="miter"/>
<path d="M3353.00 1936.10Q3353.72 1941.18 3358.80 1941.90Q3353.72 1942.62 3353.00 1947.70Q3352.28 1942.62 3347.20 1941.90Q3352.28 1941.18 3353.00 1936.10Z" stroke-linejoin="miter"/>
<path d="M3368.4 1918.6Q3369.2 1911.7 3376 1911.7Q3383.5 1911.7 3383.5 1918.6Q3383.5 1922.6 3379.5 1925Q3376 1927.2 3376 1930.6"/><circle cx="3376" cy="1938.8" r="2.6"/>
</g></svg>
<svg class="abs" id="bottom-icons" style="left:113px;top:1898px" width="3210" height="68" viewBox="113 1898 3210 68"><g class="ic">
<path d="M3196.5 1940.6L3213.2 1928.2L3229.9 1940.6"/>
<path d="M3270.3 1931V1928.3Q3270.3 1922.3 3276.3 1922.3H3293.8Q3299.8 1922.3 3299.8 1928.3V1931M3270.3 1943.2V1945.7Q3270.3 1951.7 3276.3 1951.7H3293.8Q3299.8 1951.7 3299.8 1945.7V1943.2"/>
</g></svg>
<span class="t " style="left:40.52px;top:39px;font-size:7px;color:#fff;letter-spacing:-0.635px;font-weight:700;">TradingView</span>
<svg class="abs" style="left:0;top:1900px" width="3420" height="66" viewBox="0 1900 3420 66"><path d="M1 1966V1926A64 64 0 0 0 15 1966Z" fill="#1e3a5f"/><path d="M3421 1966V1926A64 64 0 0 1 3407 1966Z" fill="#44607f"/></svg>
</body></html>
